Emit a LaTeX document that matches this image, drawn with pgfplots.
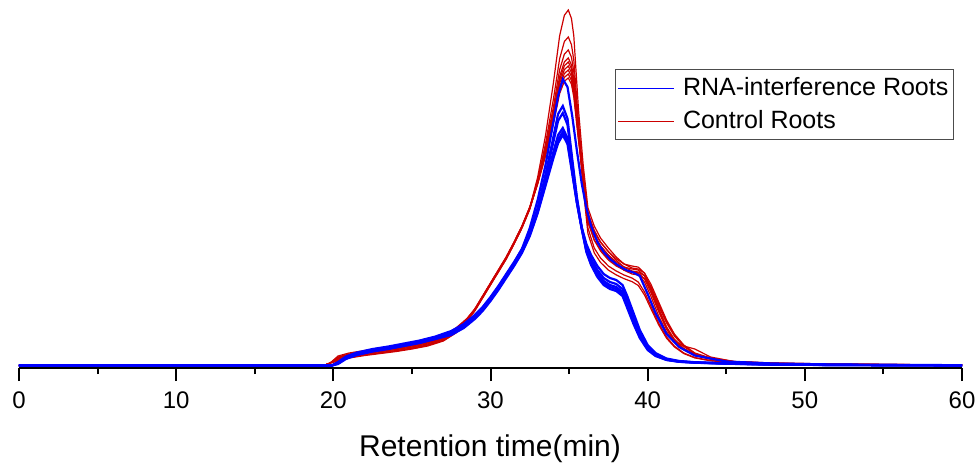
\documentclass[border=0pt]{standalone}
\usepackage{fontspec}
\setmainfont{Liberation Sans}
\usepackage{pgfplots}
\usepackage{pgfplotstable}
\pgfplotsset{compat=1.18}
\definecolor{cblue}{RGB}{0,0,255}
\definecolor{cred}{RGB}{204,0,0}

\pgfplotstableread{
t     R1    R2    R3    R4    R5    R6    R7    R8    R9
0     2.5   2.5   2.5   2.5   2.5   2.5   2.5   2.5   2.5
19.4  2.5   2.5   2.5   2.5   2.5   2.5   2.5   2.5   2.5
19.8  5     5     5     5     5     5     5     5     5
20.3  9     11    8     10    7     12    9     7.5   10.5
21    12    14    11    13    10    15    12    10.5  13.5
22    14.5  16.5  13.5  15.5  12.5  17.5  14.5  13    16
23    16.5  18.5  15.5  17.5  14.5  19.5  16.5  15    18
24    18.5  20.5  17.5  19.5  16.5  21.5  18.5  17    20
25    21    23    20    22    19    24    21    19.5  22.5
26    24    26    23    25    22    27    24    22.5  25.5
27    29    31    28    30    27    32    29    27.5  30.5
27.8  37    39    36    38    35    40    37    35.5  38.5
28.5  48    49    47.5  48.5  47    49.5  48    47.2  48.8
29    58    59    57.5  58.5  57    59    58    57.5  58.5
29.5  71    72    70.5  71.5  70    72    71    70.5  71.5
30    84    85    83.5  84.5  83    85    84    83.5  84.5
30.5  97    98    96    97    96    98    97    96.5  97.5
31    110   111   109   110   109   111   110   109.5 110.5
31.5  125   126   124   125   124   126   125   124.5 125.5
32    141   142   140   141   140   142   141   140.5 141.5
32.5  160   161   159   160   159   161   160   159.5 160.5
33    190.8 188.1 186.8 186   185.6 185.2 184.8 184.4 184
33.5  232.4 224.3 220.4 218   216.8 215.6 214.4 213.2 212
34    284.8 268.6 260.8 256   253.6 251.2 248.8 246.4 244
34.4  332.3 309.4 298.3 291.5 288.1 284.7 281.3 277.9 274.5
34.7  352.7 326.5 313.9 306.2 302.3 298.4 294.5 290.7 286.8
34.95 358   331   318   310   306   302   298   294   290
35.15 349.6 323.4 310.9 303.1 299.3 295.4 291.5 287.7 283.8
35.3  332.2 307.9 296.2 289   285.4 281.8 278.2 274.6 271
35.6  258.1 246   240.1 236.5 234.7 232.9 231.1 229.3 227.5
35.9  202.7 192.7 182.7 187.5 188.9 194.3 179.7 187.1 192.5
36.2  160   150   140   148   154.5 155.2 134.4 145.5 150.4
36.6  142   132   120   128   136   137.7 115.2 128   133.5
37    130   122   110   117   125.7 126.1 105.6 118.3 122.2
37.5  120   113   102   108   116.4 116.4 97.9  109.6 112.8
38    111   106   97    102   109.2 107.7 93.1  102.8 104.3
38.5  104   101   93    98    104   100.9 89.3  98    97.8
39    100   99    90    96    102   97    86.4  96    94
39.4  99    98    86    94    100.9 96    82.6  95.1  93.1
39.8  95    92    76    86    94.8  92.2  73    89.2  89.3
40.2  84    78    62    72    80.3  81.5  59.5  75.7  79
40.7  66    58    45    52    59.7  64    43.2  56.3  62
41.2  48    40    31    36    41.2  46.6  29.8  38.8  45.1
41.7  34    28    22    27    28.8  33    21.1  27.2  32
42.3  23    19    15    22    19.6  22.3  14.4  18.4  21.6
43    15    13    10.5  19    13.4  14.6  10.1  12.6  14.1
44    10    9     7.5   11    9.3   9.7   7.2   8.7   9.4
45.5  6.5   6     5.5   6.5   6.2   6.3   5.3   5.8   6.1
48    5     4.5   4     4.8   4.6   4.9   3.8   4.4   4.7
52    4     3.5   3.5   4     3.6   3.9   3.4   3.4   3.8
60    3     3     3     3     3     3     3     3     3
}\redtab

\pgfplotstableread{
t     B1    B2    B3    B4    B5    B6
0     2.5   2.5   2.5   2.5   2.5   2.5
19.9  2.5   2.5   2.5   2.5   2.5   2.5
20.3  5     6     5.5   5     4.5   4
20.8  10    11.5  10.5  10    9.5   9
21.5  14    15.5  14.5  14    13.5  13
22.5  17.5  19    18    17.5  17    16.5
23.5  20.5  21.5  20.5  20    19.5  19
24.5  23.5  24.5  23.5  23    22.5  22
25.5  27    27.5  26.5  26    25.5  25
26.5  31    31.5  30.5  30    29.5  29
27.5  36    37    36    35    34    33
28.3  43    44    43    42    41    40
29    52    53    52    51    50    49
29.5  60    61    60    59    58    57
30    70    71    70    69    68    67
30.5  81    82    81    80    79    78
31    93    94    93    92    91    90
31.5  105   106   105   104   103   102
32    119   119   118   117   116   115
32.5  140   136   135   134   133   132
33    168   160   158.8 157   155.8 154.7
33.5  203   193.5 190.8 186   184   182.3
34    246   231   226   216   212.6 209.8
34.3  272   254   247.2 233   228.5 224.8
34.6  289   262   255   240   236   233
34.9  281   249.4 243.2 230   226.5 223.8
35.2  252   209   205.5 198   196   194.5
35.5  217   170.4 169   166   165.2 164.6
35.8  185   141   140.8 140   139.8 139.6
36.1  160   124   121   118   117   116
36.4  142   113   109   106   104   103
36.8  126   102   98    95    93    91
37.2  116   94    90    87    85    83
37.6  109   90    86    83    81    79
38    104   88    84    81    79    77
38.4  100   83    79    76    74    72
38.7  97.5  72    68    64    62    60
39.1  95.5  55    51    48    46    44
39.5  92    38    35    33    31    30
40    74    23    21    20    19    18
40.5  55    15    14    13    12.5  12
41.2  34    9.5   9     8.5   8.2   8
42    21    7     6.8   6.5   6.3   6.2
43    12.5  5.8   5.6   5.5   5.4   5.3
45    6.5   4.7   4.6   4.5   4.4   4.3
48    4.5   3.6   3.5   3.5   3.4   3.3
52    3.5   3     3     3     3     3
60    2.8   2.6   2.5   2.5   2.5   2.5
}\bluetab

\begin{document}
\begin{tikzpicture}
\begin{axis}[
  scale only axis, width=471.5pt, height=184pt,
  xmin=0, xmax=60, ymin=0, ymax=368,
  axis x line=bottom, axis y line=none,
  x axis line style={-, line width=1pt, black},
  xtick={0,10,...,60}, minor x tick num=1,
  tick align=outside, major tick length=6.5pt, minor tick length=3pt,
  every tick/.style={black, line width=1pt},
  /pgf/number format/assume math mode=true,
  xticklabel style={font=\fontsize{12}{14}\selectfont, yshift=-2pt},
  xlabel={Retention time(min)},
  x label style={font=\fontsize{15}{18}\selectfont, at={(axis description cs:0.4995,0)}, anchor=base, yshift=-44pt},
  legend image code/.code={\draw[#1] (0pt,0pt) -- (28pt,0pt);},
  legend cell align=left,
  legend style={at={(rel axis cs:0.9915,0.8125)}, anchor=north east,
    draw=black!70, line width=0.6pt, font=\fontsize{12.5}{15}\selectfont,
    inner xsep=1pt, inner ysep=2.5pt, nodes={inner sep=1.5pt}, row sep=3pt, column sep=2.5pt},
]
\addplot[cred, line width=0.6pt, forget plot] table[x=t, y=R1] {\redtab};
\addplot[cred, line width=0.6pt, forget plot] table[x=t, y=R2] {\redtab};
\addplot[cred, line width=0.6pt, forget plot] table[x=t, y=R3] {\redtab};
\addplot[cred, line width=0.6pt, forget plot] table[x=t, y=R4] {\redtab};
\addplot[cred, line width=0.6pt, forget plot] table[x=t, y=R5] {\redtab};
\addplot[cred, line width=0.6pt, forget plot] table[x=t, y=R6] {\redtab};
\addplot[cred, line width=0.6pt, forget plot] table[x=t, y=R7] {\redtab};
\addplot[cred, line width=0.6pt, forget plot] table[x=t, y=R8] {\redtab};
\addplot[cred, line width=0.6pt, forget plot] table[x=t, y=R9] {\redtab};
\addplot[cblue, line width=1.1pt, forget plot] table[x=t, y=B1] {\bluetab};
\addplot[cblue, line width=1.1pt, forget plot] table[x=t, y=B2] {\bluetab};
\addplot[cblue, line width=1.1pt, forget plot] table[x=t, y=B3] {\bluetab};
\addplot[cblue, line width=1.1pt, forget plot] table[x=t, y=B4] {\bluetab};
\addplot[cblue, line width=1.1pt, forget plot] table[x=t, y=B5] {\bluetab};
\addplot[cblue, line width=1.1pt, forget plot] table[x=t, y=B6] {\bluetab};
\addlegendimage{draw=cblue, color=cblue, line width=0.6pt}
\addlegendentry{RNA-interference Roots}
\addlegendimage{draw=cred, color=cred, line width=0.6pt}
\addlegendentry{Control Roots}
\end{axis}
\pgfresetboundingbox
\path[use as bounding box] (current axis.south west) ++(-9.5pt,-50pt) rectangle ++(489.5pt,234pt);
\end{tikzpicture}
\end{document}
